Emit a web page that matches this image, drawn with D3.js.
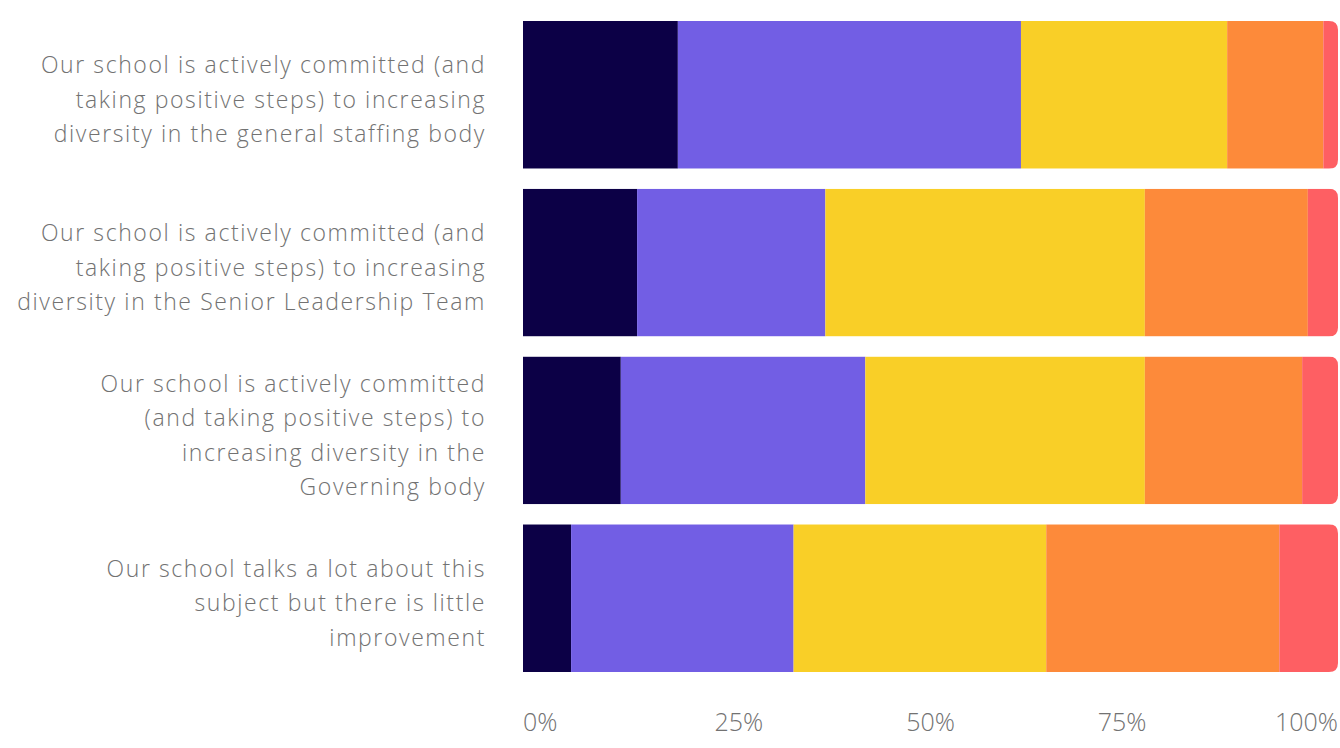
<!DOCTYPE html>
<html>
<head>
<meta charset="utf-8">
<script src="https://cdn.jsdelivr.net/npm/d3@7"></script>
<style>
  html, body { margin: 0; padding: 0; background: #ffffff; }
  svg { display: block; }
  text { font-family: "Open Sans", "Lato", sans-serif; font-weight: 300; fill: #727272; }
</style>
</head>
<body>
<svg id="chart" width="1340" height="748"></svg>
<script>
// ---- data ----
const categories = [
  ["Our school is actively committed (and", "taking positive steps) to increasing", "diversity in the general staffing body"],
  ["Our school is actively committed (and", "taking positive steps) to increasing", "diversity in the Senior Leadership Team"],
  ["Our school is actively committed", "(and taking positive steps) to", "increasing diversity in the", "Governing body"],
  ["Our school talks a lot about this", "subject but there is little", "improvement"]
];
const seriesNames = ["Strongly agree", "Agree", "Neutral", "Disagree", "Strongly disagree"];
const stronglyAgree    = [19.0, 14.0, 12.0, 5.9];
const agree            = [42.1, 23.1, 30.0, 27.3];
const neutral          = [25.3, 39.2, 34.3, 31.0];
const disagree         = [11.8, 20.0, 19.3, 28.6];
const stronglyDisagree = [1.8, 3.7, 4.4, 7.2];
const seriesColors = ["#0c0046", "#725ee4", "#f9cf27", "#fd8a3a", "#fe5f63"];
const tickValues = [0, 0.25, 0.5, 0.75, 1];
const tickLabels = ["0%", "25%", "50%", "75%", "100%"];

// ---- layout ----
const svg = d3.select("#chart");
const plotLeft = 523, plotRight = 1338, plotTop = 21, plotBottom = 672;
const seriesValues = [stronglyAgree, agree, neutral, disagree, stronglyDisagree];

const rows = categories.map((c, i) => {
  const obj = { idx: i };
  seriesNames.forEach((s, k) => obj[s] = seriesValues[k][i]);
  return obj;
});

const stack = d3.stack().keys(seriesNames).offset(d3.stackOffsetExpand);
const stacked = stack(rows);

const x = d3.scaleLinear().domain([0, 1]).range([plotLeft, plotRight]);
const y = d3.scaleBand().domain(d3.range(categories.length)).range([plotTop, plotBottom]).paddingInner(0.12);

// clip paths with rounded right corners
const defs = svg.append("defs");
const r = 9;
categories.forEach((c, i) => {
  const y0 = y(i), h = y.bandwidth(), x0 = x(0), x1 = x(1);
  const p = `M${x0},${y0} H${x1 - r} Q${x1},${y0} ${x1},${y0 + r} V${y0 + h - r} Q${x1},${y0 + h} ${x1 - r},${y0 + h} H${x0} Z`;
  defs.append("clipPath").attr("id", "clip" + i).append("path").attr("d", p);
});

const barG = svg.append("g");
categories.forEach((c, i) => {
  const g = barG.append("g").attr("clip-path", `url(#clip${i})`);
  stacked.forEach((layer, k) => {
    const d = layer[i];
    g.append("rect")
      .attr("x", x(d[0]))
      .attr("y", y(i))
      .attr("width", Math.max(0, x(d[1]) - x(d[0])))
      .attr("height", y.bandwidth())
      .attr("fill", seriesColors[k]);
  });
});

// category labels
const lineH = 34.5;
categories.forEach((lines, i) => {
  const cy = y(i) + y.bandwidth() / 2 + 5;
  const t = svg.append("text")
    .attr("text-anchor", "end")
    .attr("font-size", 23)
    .attr("letter-spacing", 1.6);
  lines.forEach((ln, j) => {
    t.append("tspan")
      .attr("x", 486)
      .attr("y", cy + (j - (lines.length - 1) / 2) * lineH)
      .attr("dy", "0.35em")
      .text(ln);
  });
});

// x axis tick labels (flush at ends)
const axisG = svg.append("g");
tickValues.forEach((v, i) => {
  const t = axisG.append("text")
    .attr("font-size", 25)
    .attr("y", 722)
    .attr("dy", "0.35em")
    .text(tickLabels[i]);
  const w = t.node().getComputedTextLength();
  t.attr("x", x(v) - v * w);
});
</script>
</body>
</html>
